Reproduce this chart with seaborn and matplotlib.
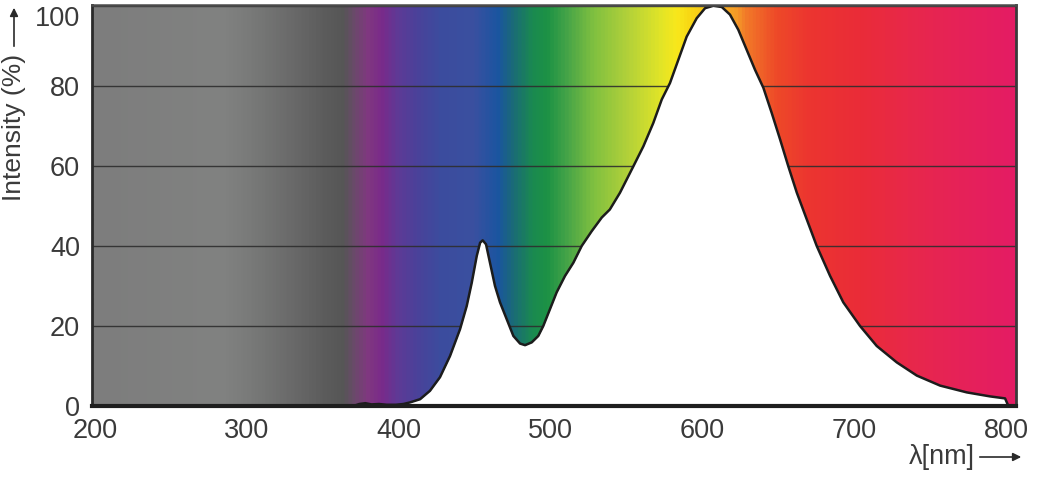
import matplotlib as mpl
import matplotlib.pyplot as plt
import numpy as np
import seaborn as sns
from matplotlib.colors import LinearSegmentedColormap

# Spectrum (wavelength in nm, relative intensity in %).
wavelength = [198, 300, 370, 374, 378, 382, 387, 392, 398, 403, 407.4, 414.0,
              420.5, 427.1, 433.7, 440.3, 444.7, 448.0, 451.3, 453.5, 455.2,
              457.4, 460.0, 463.3, 466.6, 471.0, 475.4, 479.8, 483.1, 487.5,
              491.8, 495.1, 499.5, 503.9, 509.4, 514.9, 520.4, 527.0, 533.6,
              538.9, 545.6, 554.4, 561.0, 567.5, 573.1, 578.5, 584.0, 589.5,
              596.1, 601.6, 607.0, 612.6, 618.0, 623.5, 629.0, 634.5, 640.0,
              645.5, 651.0, 656.4, 662.0, 667.4, 675.1, 683.9, 692.6, 703.6,
              714.6, 727.8, 741.0, 756.3, 773.9, 789.2, 799.1, 801.3]
intensity = [0, 0, 0, 0.5, 0.7, 0.4, 0.5, 0.3, 0.3, 0.5, 0.9, 1.7,
             3.8, 7.2, 12.5, 19.2, 25.0, 30.8, 37.5, 40.8, 41.4,
             40.4, 35.8, 30.0, 25.9, 21.7, 17.5, 15.6, 15.2, 15.9,
             17.5, 20.0, 24.2, 28.4, 32.5, 35.8, 40.0, 43.7, 47.1,
             49.1, 53.3, 59.9, 64.9, 70.7, 76.6, 80.7, 86.5, 92.3,
             96.9, 99.4, 100, 99.7, 97.8, 94.0, 89.0, 84.0, 79.5,
             73.2, 66.6, 59.9, 53.3, 47.8, 40.0, 32.5, 25.9, 20.0,
             15.0, 10.9, 7.6, 5.1, 3.4, 2.4, 1.9, 0]

x_ticks = [200, 300, 400, 500, 600, 700, 800]
y_ticks = [0, 20, 40, 60, 80, 100]

# Background colour band (wavelength stop, colour).
band_nm = [198, 284, 307, 328, 350, 363, 370, 379, 388, 399, 412, 427, 449,
           465, 475, 488, 498, 511, 528, 550, 572, 583, 592, 612, 623, 629,
           649, 671, 704, 737, 770, 806.3]
band_col = ["#7d7d7d", "#818281", "#767776", "#6a6a6a", "#5c5c5c", "#565656",
            "#6a4a6a", "#803880", "#7a2a8a", "#5e3a96", "#4a429a", "#3c4c9e",
            "#3a50a0", "#1b55a0", "#1a6a78", "#1a8a50", "#1d9245", "#46a448",
            "#7fc040", "#b0d03a", "#e0e428", "#f8e81c", "#f8d814", "#f8b420",
            "#f59a28", "#f27a28", "#ee4a28", "#ec3530", "#ea2c38", "#e8284a",
            "#e62258", "#e41c64"]

sns.set_style("white")
mpl.rcParams["font.family"] = ["Liberation Sans", "DejaVu Sans"]

x_lo, x_hi = 198.0, 806.3
y_hi = 100.2

fig = plt.figure(figsize=(10.6, 4.86), dpi=100)
ax = fig.add_axes([92 / 1060, 80 / 486, 924 / 1060, 401 / 486])

# Spectral colour background.
span = x_hi - x_lo
cmap = LinearSegmentedColormap.from_list(
    "spectrum", [((n - x_lo) / span, c) for n, c in zip(band_nm, band_col)])
grad = np.linspace(0, 1, 1200)[None, :]
ax.imshow(grad, extent=[x_lo, x_hi, 0, y_hi], aspect="auto", cmap=cmap,
          zorder=0, interpolation="bilinear")

# White area under the curve hides the gridlines.
ax.fill_between(wavelength, intensity, 0, color="white", lw=0, zorder=2)
sns.lineplot(x=wavelength, y=intensity, ax=ax, color="#1c1c1c", lw=1.8,
             zorder=4, sort=False)

ax.set_xlim(x_lo, x_hi)
ax.set_ylim(0, y_hi)
ax.set_xticks(x_ticks)
ax.set_yticks(y_ticks)
ax.set_axisbelow(True)
ax.yaxis.grid(True, color="#2e2e2e", lw=1.0, alpha=0.9)
ax.xaxis.grid(False)
ax.tick_params(length=0, labelsize=19.5, labelcolor="#3a3a3a")
ax.tick_params(axis="x", pad=8.5)
ax.tick_params(axis="y", pad=8.5)
ax.get_yticklabels()[-1].set_va("top")
ax.set_xlabel("")
ax.set_ylabel("")

for side, lw, col in [("bottom", 3.0, "#1e1e1e"), ("left", 2.0, "#2a2a2a"),
                      ("right", 2.0, "#3a3a3a"), ("top", 1.8, "#4a4a4a")]:
    ax.spines[side].set_visible(True)
    ax.spines[side].set_linewidth(lw)
    ax.spines[side].set_color(col)
    ax.spines[side].set_zorder(5)

# Axis titles with arrows, as in the reference.
fig.text(14 / 1060, 1 - 127 / 486, "Intensity (%)", rotation=90,
         ha="center", va="center", fontsize=19, color="#3a3a3a")
fig.add_artist(mpl.patches.FancyArrowPatch(
    (14 / 1060, 1 - 49 / 486), (14 / 1060, 1 - 5 / 486),
    transform=fig.transFigure, arrowstyle="-|>", mutation_scale=12,
    lw=1.2, color="#2a2a2a"))
fig.text(909 / 1060, 1 - 457 / 486, "λ[nm]", ha="left", va="center",
         fontsize=19.5, color="#3a3a3a")
fig.add_artist(mpl.patches.FancyArrowPatch(
    (977 / 1060, 1 - 457 / 486), (1024 / 1060, 1 - 457 / 486),
    transform=fig.transFigure, arrowstyle="-|>", mutation_scale=12,
    lw=1.2, color="#2a2a2a"))

fig.savefig("out.png", dpi=100)
